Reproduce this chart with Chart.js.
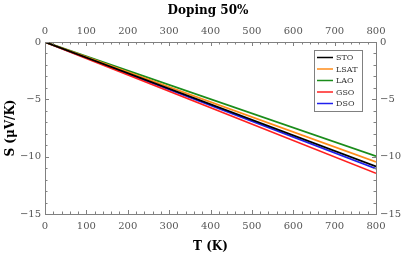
<!DOCTYPE html>
<html>
<head>
<meta charset="utf-8">
<script src="https://cdn.jsdelivr.net/npm/chart.js@4"></script>
<style>
  body { margin: 0; background: #fff; }
  #seebeckChart { display: block; }
</style>
</head>
<body>
<canvas id="seebeckChart" width="416" height="258"></canvas>
<script>
// temperature (K) and Seebeck coefficient S (uV/K) at each end of the lines
const temps = [0, 800];
const labels = ['STO', 'LSAT', 'LAO', 'GSO', 'DSO'];
const stoS = [0, -10.85];
const lsatS = [0, -10.45];
const laoS = [0, -9.95];
const gsoS = [0, -11.45];
const dsoS = [0, -11.05];
const xTicks = [0, 100, 200, 300, 400, 500, 600, 700, 800];
const yTicks = [-15, -10, -5, 0];

const colors = ['#000000', '#ff8c1a', '#1a8c1a', '#ff2020', '#2020ee'];
const series = [stoS, lsatS, laoS, gsoS, dsoS];

const axisGray = '#808080';
const tickFont = { family: 'DejaVu Serif', size: 10 };
const boldFont = { family: 'DejaVu Serif', size: 12, weight: 'bold' };
const minus = v => String(v).replace('-', '\u2212');

// little inward tick marks, major + minor
const tickMarks = {
  id: 'tickMarks',
  afterDraw(chart) {
    const ctx = chart.ctx;
    const a = chart.chartArea;
    ctx.save();
    ctx.strokeStyle = axisGray;
    ctx.lineWidth = 1;
    ctx.beginPath();
    for (let v = 0; v <= 800; v += 20) {
      const len = (v % 100 === 0) ? 4 : 2.5;
      const px = Math.round(chart.scales.x.getPixelForValue(v)) + 0.5;
      ctx.moveTo(px, a.bottom); ctx.lineTo(px, a.bottom - len);
      ctx.moveTo(px, a.top); ctx.lineTo(px, a.top + len);
    }
    for (let v = -15; v <= 0; v += 1) {
      const len = (v % 5 === 0) ? 4 : 2.5;
      const py = Math.round(chart.scales.y.getPixelForValue(v)) + 0.5;
      ctx.moveTo(a.left, py); ctx.lineTo(a.left + len, py);
      ctx.moveTo(a.right, py); ctx.lineTo(a.right - len, py);
    }
    ctx.stroke();
    ctx.restore();
  }
};

// legend drawn as a framed box inside the plot
const boxLegend = {
  id: 'boxLegend',
  afterDatasetsDraw(chart) {
    const ctx = chart.ctx;
    const x0 = 314, y0 = 50, w = 48, h = 61;
    ctx.save();
    ctx.fillStyle = '#fff';
    ctx.fillRect(x0, y0, w, h);
    ctx.strokeStyle = axisGray;
    ctx.lineWidth = 1;
    ctx.strokeRect(x0 + 0.5, y0 + 0.5, w, h);
    ctx.font = '8px "DejaVu Serif"';
    ctx.textBaseline = 'middle';
    chart.data.datasets.forEach((ds, i) => {
      const yy = y0 + 7.5 + i * 11.5;
      ctx.strokeStyle = ds.borderColor;
      ctx.lineWidth = 1.5;
      ctx.beginPath();
      ctx.moveTo(x0 + 3, yy); ctx.lineTo(x0 + 19, yy);
      ctx.stroke();
      ctx.fillStyle = '#333';
      ctx.fillText(ds.label, x0 + 22, yy + 0.5);
    });
    ctx.restore();
  }
};

const ctx = document.getElementById('seebeckChart').getContext('2d');
new Chart(ctx, {
  type: 'line',
  data: {
    datasets: labels.map((name, i) => ({
      label: name,
      data: temps.map((t, j) => ({ x: t, y: series[i][j] })),
      borderColor: colors[i],
      borderWidth: 1.7,
      pointRadius: 0,
      fill: false,
      xAxisID: 'x',
      yAxisID: 'y'
    }))
  },
  options: {
    responsive: false,
    animation: false,
    layout: { padding: 0 },
    plugins: {
      legend: { display: false },
      tooltip: { enabled: false },
      title: {
        display: true,
        text: 'Doping 50%',
        color: '#000',
        font: { family: 'DejaVu Serif', size: 12, weight: 'bold' },
        padding: { top: 4, bottom: 0 }
      }
    },
    scales: {
      x: {
        type: 'linear', position: 'bottom', min: 0, max: 800,
        afterBuildTicks: s => { s.ticks = xTicks.map(v => ({ value: v })); },
        afterFit: s => { s.height = 44; },
        grid: { display: false, drawTicks: false },
        border: { color: axisGray },
        ticks: { color: '#555', font: tickFont, padding: 6, maxRotation: 0 },
        title: { display: true, text: 'T (K)', color: '#000', font: boldFont, padding: { top: 0, bottom: 4 } }
      },
      x2: {
        type: 'linear', position: 'top', min: 0, max: 800,
        afterBuildTicks: s => { s.ticks = xTicks.map(v => ({ value: v })); },
        afterFit: s => { s.height = 23.6; },
        grid: { display: false, drawTicks: false },
        border: { color: axisGray },
        ticks: { color: '#555', font: tickFont, padding: 5, maxRotation: 0 }
      },
      y: {
        type: 'linear', position: 'left', min: -15, max: 0,
        afterBuildTicks: s => { s.ticks = yTicks.map(v => ({ value: v })); },
        afterFit: s => { s.width = 45; },
        grid: { display: false, drawTicks: false },
        border: { color: axisGray },
        ticks: { color: '#555', font: tickFont, padding: 4, callback: minus },
        title: { display: true, text: 'S (μV/K)', color: '#000', font: boldFont, padding: { top: 4, bottom: 0 } }
      },
      y2: {
        type: 'linear', position: 'right', min: -15, max: 0,
        afterBuildTicks: s => { s.ticks = yTicks.map(v => ({ value: v })); },
        afterFit: s => { s.width = 40; },
        grid: { display: false, drawTicks: false },
        border: { color: axisGray },
        ticks: { color: '#555', font: tickFont, padding: 4, callback: minus }
      }
    }
  },
  plugins: [tickMarks, boxLegend]
});
</script>
</body>
</html>
